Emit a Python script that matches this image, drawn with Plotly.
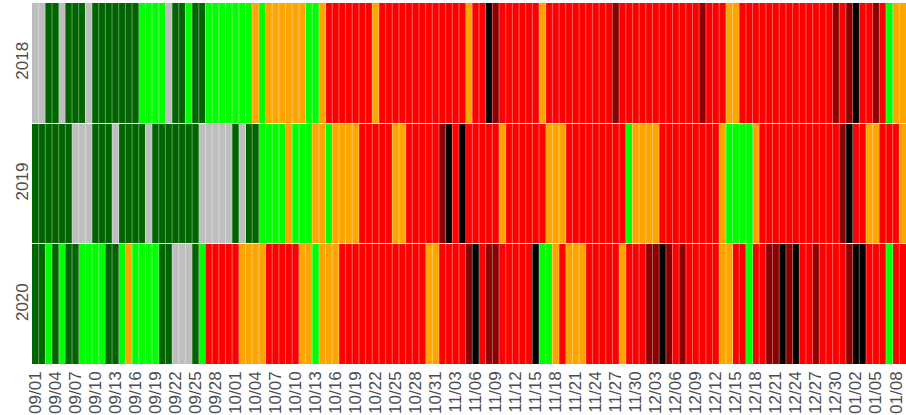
import pandas as pd
import plotly.graph_objects as go

# Category codes per day, 2018-09-01 .. 2019-01-10 (131 days), one string per month
# g=grey, D=darkgreen, G=green, O=orange, R=red, K=darkred, B=black
years = ["2018", "2019", "2020"]
season_2018 = ("ggDDgDDDgDDDDDDDGGGGgDDGDDGGGG"      # Sep
               "GGGOGOOOOOOGGORRRRRRRORRRRRRRRR"     # Oct
               "RRRRORRBKRRRRRRORRRRRRRRRRKRRR"      # Nov
               "RRRRRRRRRKRRROORRRRRRRRRRRRRRKR"     # Dec
               "KBRRKRGOO")                          # Jan
season_2019 = ("DDDDDDgggDDDgDDDDgDDDDDDDggggg"
               "DgDDGGGGOGGGOOGOOOORRRRROORRRRR"
               "KBRBRRRRRORRRRRROOORRRRRRRRRGO"
               "OOORRRRRRRRROGGGGORRRRRRRRRRRRK"
               "BRROORRRO")
season_2020 = ("DDGDGDDGGGGDDGOGGGGDDgggDGRRRR"
               "ROOOORRRRROOGOOORRRRRRRRRRRRROO"
               "RRRRKBRKKRRRRRBGGOROOORRRRRORR"
               "RKKBKRKRRRRROORRGRRKKBKBRRKRRRR"
               "KBBRRRGRR")

codes = ["g", "D", "G", "O", "R", "K", "B"]
colors = ["#BEBEBE", "#006400", "#00FF00", "#FFA500", "#FF0000", "#8B0000", "#000000"]

day_labels = [d.strftime("%m/%d") for d in pd.date_range("2018-09-01", periods=len(season_2018))]
tick_labels = day_labels[::3]

z = [[codes.index(c) for c in s] for s in (season_2018, season_2019, season_2020)]

n = len(codes)
colorscale = []
for i, c in enumerate(colors):
    colorscale.append([i / n, c])
    colorscale.append([(i + 1) / n, c])

fig = go.Figure(go.Heatmap(
    z=z, x=day_labels, y=years,
    colorscale=colorscale, zmin=-0.5, zmax=n - 0.5,
    showscale=False, xgap=0, ygap=1, hoverinfo="skip",
))

# faint white separators between days
for i in range(1, len(day_labels)):
    fig.add_shape(type="line", xref="x", yref="paper", x0=i - 0.5, x1=i - 0.5, y0=0, y1=1,
                  line=dict(color="rgba(255,255,255,0.38)", width=1), layer="above")

fig.update_layout(
    width=906, height=415,
    margin=dict(l=32, r=0, t=3, b=50, autoexpand=False),
    plot_bgcolor="white", paper_bgcolor="white",
    font=dict(family="Liberation Sans, Arial, sans-serif", size=17, color="#4D4D4D"),
)
fig.update_xaxes(type="category", tickmode="array", tickvals=tick_labels, ticktext=tick_labels,
                 tickangle=-90, ticks="", showgrid=False, zeroline=False, showline=False,
                 automargin=False, ticklabelstandoff=2,
                 tickfont=dict(size=17, color="#4D4D4D"))
fig.update_yaxes(type="category", autorange="reversed", tickangle=-90, ticks="",
                 showgrid=False, zeroline=False, showline=False, automargin=False,
                 tickfont=dict(size=17, color="#4D4D4D"))

fig.write_html("out.html", config={"displayModeBar": False},
               post_script="document.body.style.margin='0';document.body.style.overflow='hidden';")
